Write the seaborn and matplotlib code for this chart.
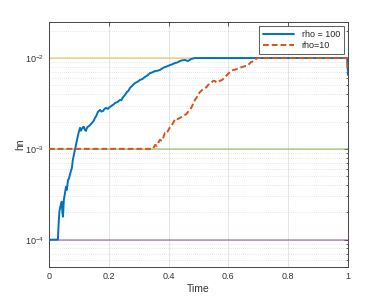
import numpy as np
import pandas as pd
import matplotlib
matplotlib.use("Agg")
import matplotlib.pyplot as plt
import seaborn as sns
from matplotlib.ticker import LogLocator, NullFormatter

# ============================
# DATA (log10 of hn)
# ============================
t_rho100 = [0.0, 0.030, 0.033, 0.035, 0.038, 0.040, 0.043, 0.045, 0.047, 0.050, 0.054, 0.057, 0.060,
            0.064, 0.067, 0.070, 0.074, 0.077, 0.080, 0.087, 0.094, 0.100, 0.104, 0.107, 0.110, 0.114, 0.117,
            0.120, 0.124, 0.127, 0.130, 0.137, 0.144, 0.150, 0.154, 0.158, 0.164, 0.171, 0.176, 0.181, 0.186, 0.191, 0.197, 0.204,
            0.212, 0.217, 0.221, 0.229, 0.237, 0.242, 0.246, 0.254, 0.262, 0.266, 0.271, 0.280, 0.288,
            0.296, 0.304, 0.313, 0.321, 0.330, 0.338, 0.346, 0.355, 0.363, 0.371,
            0.380, 0.388, 0.396, 0.405, 0.413, 0.421, 0.430, 0.438, 0.446, 0.455,
            0.465, 0.475, 0.488, 0.997, 1.0]
log_rho100 = [-4.0, -4.0, -3.80, -3.692, -3.640, -3.615, -3.582, -3.700, -3.747, -3.560, -3.484, -3.418, -3.451,
              -3.341, -3.330, -3.286, -3.240, -3.209, -3.121, -3.011, -2.901, -2.813, -2.769, -2.800, -2.780, -2.760, -2.758,
              -2.790, -2.802, -2.770, -2.758, -2.740, -2.714, -2.690, -2.659, -2.640, -2.593, -2.571, -2.590, -2.582, -2.560, -2.549, -2.560, -2.538,
              -2.520, -2.510, -2.495, -2.485, -2.462, -2.465, -2.440, -2.407, -2.370, -2.360, -2.330, -2.300, -2.275,
              -2.262, -2.242, -2.230, -2.209, -2.190, -2.165, -2.158, -2.143, -2.140, -2.132,
              -2.112, -2.099, -2.090, -2.077, -2.068, -2.055, -2.048, -2.033, -2.025, -2.022,
              -2.033, -2.011, -2.0, -2.0, -2.187]

t_rho10 = [0.0, 0.348, 0.355, 0.361, 0.366, 0.371, 0.378, 0.383, 0.388, 0.393, 0.398,
           0.405, 0.410, 0.415, 0.421, 0.426, 0.431, 0.438, 0.443, 0.448, 0.455,
           0.460, 0.465, 0.472, 0.477, 0.482, 0.488, 0.493, 0.498, 0.505, 0.510,
           0.515, 0.522, 0.527, 0.532, 0.538, 0.545, 0.550, 0.555, 0.560, 0.565,
           0.572, 0.579, 0.584, 0.589, 0.595, 0.600, 0.605, 0.610, 0.615, 0.622,
           0.629, 0.637, 0.645, 0.650, 0.656, 0.661, 0.666, 0.671, 0.676, 0.683,
           0.689, 0.696, 0.997, 1.0]
log_rho10 = [-3.0, -3.0, -2.956, -2.967, -2.930, -2.901, -2.912, -2.870, -2.824, -2.830, -2.802,
             -2.758, -2.745, -2.714, -2.681, -2.690, -2.670, -2.659, -2.650, -2.637, -2.626,
             -2.615, -2.593, -2.571, -2.540, -2.505, -2.462, -2.440, -2.407, -2.374, -2.360,
             -2.341, -2.330, -2.320, -2.297, -2.285, -2.264, -2.250, -2.253, -2.270, -2.264,
             -2.250, -2.242, -2.225, -2.209, -2.187, -2.170, -2.154, -2.140, -2.132, -2.128,
             -2.121, -2.110, -2.099, -2.095, -2.088, -2.085, -2.077, -2.060, -2.044, -2.035,
             -2.022, -2.0, -2.0, -2.15]

ref_levels = [1e-2, 1e-3, 1e-4]
ref_colors = ["#EDB120", "#77AC30", "#7E2F8E"]

series_labels = ["rho = 100", "rho=10"]
series_colors = ["#0072BD", "#D95319"]

df = pd.concat([
    pd.DataFrame({"Time": t_rho100, "hn": 10.0 ** np.array(log_rho100), "run": series_labels[0]}),
    pd.DataFrame({"Time": t_rho10, "hn": 10.0 ** np.array(log_rho10), "run": series_labels[1]}),
])

# ============================
# PLOT
# ============================
sns.set_style("white")
plt.rcParams['font.family'] = ['Liberation Sans', 'DejaVu Sans']
plt.rcParams['mathtext.fontset'] = 'custom'
plt.rcParams['mathtext.rm'] = 'Liberation Sans'

fig = plt.figure(figsize=(3.85, 3.0), dpi=100)
ax = fig.add_axes([0.127, 0.11, 0.777, 0.817])

# reference levels
for lvl, c in zip(ref_levels, ref_colors):
    ax.axhline(lvl, color=c, alpha=0.5, lw=1.2, zorder=1)

sns.lineplot(data=df[df.run == series_labels[0]], x="Time", y="hn", color=series_colors[0],
             lw=1.4, ax=ax, label=series_labels[0], zorder=3, estimator=None, sort=False)
sns.lineplot(data=df[df.run == series_labels[1]], x="Time", y="hn", color=series_colors[1],
             lw=1.4, ax=ax, label=series_labels[1], zorder=4, estimator=None, sort=False,
             linestyle=(0, (3, 1.5)))

ax.set_yscale("log")
ax.set_xlim(0, 1)
ax.set_ylim(5e-5, 2.5e-2)
ax.set_xticks([0, 0.2, 0.4, 0.6, 0.8, 1])
ax.set_xticklabels(["0", "0.2", "0.4", "0.6", "0.8", "1"])
ax.yaxis.set_major_locator(LogLocator(base=10, numticks=10))
ax.yaxis.set_minor_locator(LogLocator(base=10, subs=np.arange(2, 10), numticks=20))
ax.yaxis.set_minor_formatter(NullFormatter())

ax.grid(True, which="major", axis="both", color="#e0e0e0", lw=0.6)
ax.grid(True, which="minor", axis="y", color="#d0d0d0", lw=0.5, linestyle=(0, (1, 2)))
ax.set_axisbelow(True)

ax.tick_params(which="both", direction="in", top=True, right=True, labelsize=6.5,
               color="#444444", labelcolor="#333333", width=0.6)
ax.tick_params(which="major", length=3)
ax.tick_params(which="minor", length=1.5)
for s in ax.spines.values():
    s.set_color("#444444")
    s.set_linewidth(0.7)

ax.set_xlabel("Time", fontsize=7.5, labelpad=2, color="#333333")
ax.set_ylabel("hn", fontsize=7.5, labelpad=0, color="#333333")

leg = ax.legend(loc="upper right", fontsize=6.5, frameon=True, fancybox=False,
                borderpad=0.4, handlelength=3.5, labelspacing=0.25, borderaxespad=0.5)
leg.get_frame().set_edgecolor("#333333")
leg.get_frame().set_linewidth(0.7)

fig.savefig("out.png", dpi=100)
